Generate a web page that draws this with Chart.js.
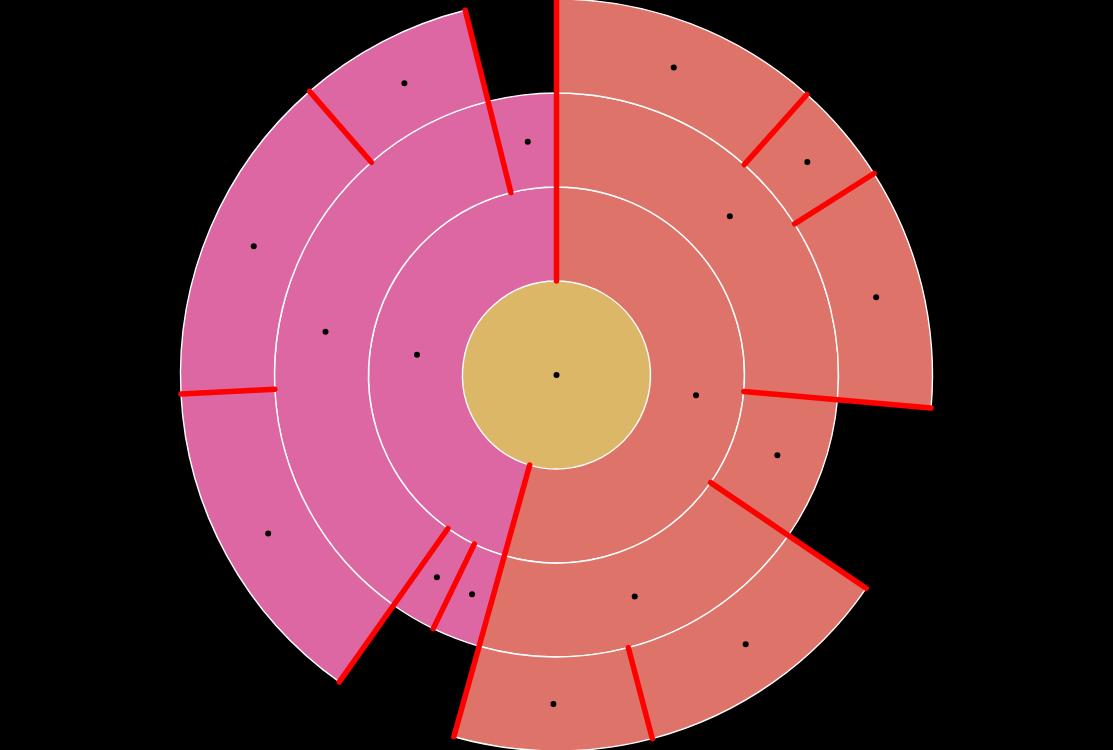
<!DOCTYPE html>
<html>
<head>
<meta charset="utf-8">
<script src="https://cdn.jsdelivr.net/npm/chart.js@4/dist/chart.umd.min.js"></script>
<style>
  html, body { margin: 0; padding: 0; background: #000; }
  #wrap { width: 1113px; height: 750px; position: relative; }
</style>
</head>
<body>
<div id="wrap"><canvas id="c"></canvas></div>
<script>
// ---- data (shares of the full circle, each ring sums to 100) ----
const centerValues = [100];
const ring1Values = [54.6, 45.4];
const ring1Groups = ['s', 'p'];
const ring2Values = [26.4, 8.3, 19.8, 2.7, 2.6, 36.3, 3.9];
const ring2Groups = ['s', 's', 's', 'p', 'p', 'p', 'p'];
// null group = empty (no child) part of the ring
const ring3Values = [11.6, 4.4, 10.4, 8.2, 11.3, 8.5, 5.4, 14.4, 14.4, 7.5, 3.9];
const ring3Groups = ['s', 's', 's', null, 's', 's', null, 'p', 'p', 'p', null];

const groupColors = { s: '#DD7369', p: '#DD67A2' };
const centerColor = '#DCB767';

function ringDataset(values, groups) {
  return {
    data: values,
    backgroundColor: groups.map(g => g ? groupColors[g] : 'rgba(0,0,0,0)'),
    borderColor: groups.map(g => g ? '#ffffff' : 'rgba(0,0,0,0)'),
    borderWidth: groups.map(g => g ? 1.4 : 0),
    gap: groups.map(g => !g),
    weight: 1
  };
}

const datasets = [
  ringDataset(ring3Values, ring3Groups),
  ringDataset(ring2Values, ring2Groups),
  ringDataset(ring1Values, ring1Groups),
  {
    data: centerValues,
    backgroundColor: [centerColor],
    borderColor: ['rgba(0,0,0,0)'],
    borderWidth: [0],
    gap: [false],
    isCenter: true,
    weight: 1
  }
];

const overlayPlugin = {
  id: 'overlay',
  afterDatasetsDraw(chart) {
    const ctx = chart.ctx;
    const TWO_PI = Math.PI * 2;
    const edges = [];
    const dots = [];
    chart.data.datasets.forEach((ds, di) => {
      const meta = chart.getDatasetMeta(di);
      meta.data.forEach((arc, i) => {
        if (ds.gap[i]) return;
        const p = arc.getProps(['x', 'y', 'startAngle', 'endAngle', 'innerRadius', 'outerRadius'], true);
        if (ds.isCenter) {
          dots.push({ x: p.x, y: p.y });
          return;
        }
        const mid = (p.startAngle + p.endAngle) / 2;
        const mr = (p.innerRadius + p.outerRadius) / 2;
        dots.push({ x: p.x + mr * Math.cos(mid), y: p.y + mr * Math.sin(mid) });
        [p.startAngle, p.endAngle].forEach(a => {
          let t = ((a + Math.PI / 2) % TWO_PI + TWO_PI) % TWO_PI;
          if (t > TWO_PI - 0.03) t -= TWO_PI;
          edges.push({ t, r0: p.innerRadius, r1: p.outerRadius, x: p.x, y: p.y });
        });
      });
    });
    edges.sort((a, b) => a.t - b.t);
    const groups = [];
    edges.forEach(e => {
      const g = groups[groups.length - 1];
      if (g && e.t - g[g.length - 1].t < 0.04) g.push(e);
      else groups.push([e]);
    });
    ctx.save();
    ctx.strokeStyle = '#FF0000';
    ctx.lineWidth = 5.5;
    ctx.lineCap = 'round';
    groups.forEach(g => {
      let inner = g[0], outer = g[0];
      g.forEach(e => {
        if (e.r0 < inner.r0) inner = e;
        if (e.r1 > outer.r1) outer = e;
      });
      const ai = inner.t - Math.PI / 2, ao = outer.t - Math.PI / 2;
      ctx.beginPath();
      ctx.moveTo(inner.x + inner.r0 * Math.cos(ai), inner.y + inner.r0 * Math.sin(ai));
      ctx.lineTo(outer.x + outer.r1 * Math.cos(ao), outer.y + outer.r1 * Math.sin(ao));
      ctx.stroke();
    });
    ctx.fillStyle = '#000000';
    dots.forEach(d => {
      ctx.beginPath();
      ctx.arc(d.x, d.y, 3, 0, TWO_PI);
      ctx.fill();
    });
    ctx.restore();
  }
};

new Chart(document.getElementById('c'), {
  type: 'doughnut',
  data: { labels: ring3Values.map((_, i) => 'item ' + (i + 1)), datasets },
  options: {
    responsive: true,
    maintainAspectRatio: false,
    animation: false,
    cutout: 0,
    radius: 376,
    layout: { padding: 0 },
    plugins: { legend: { display: false }, tooltip: { enabled: false } },
    events: []
  },
  plugins: [overlayPlugin]
});
</script>
</body>
</html>
